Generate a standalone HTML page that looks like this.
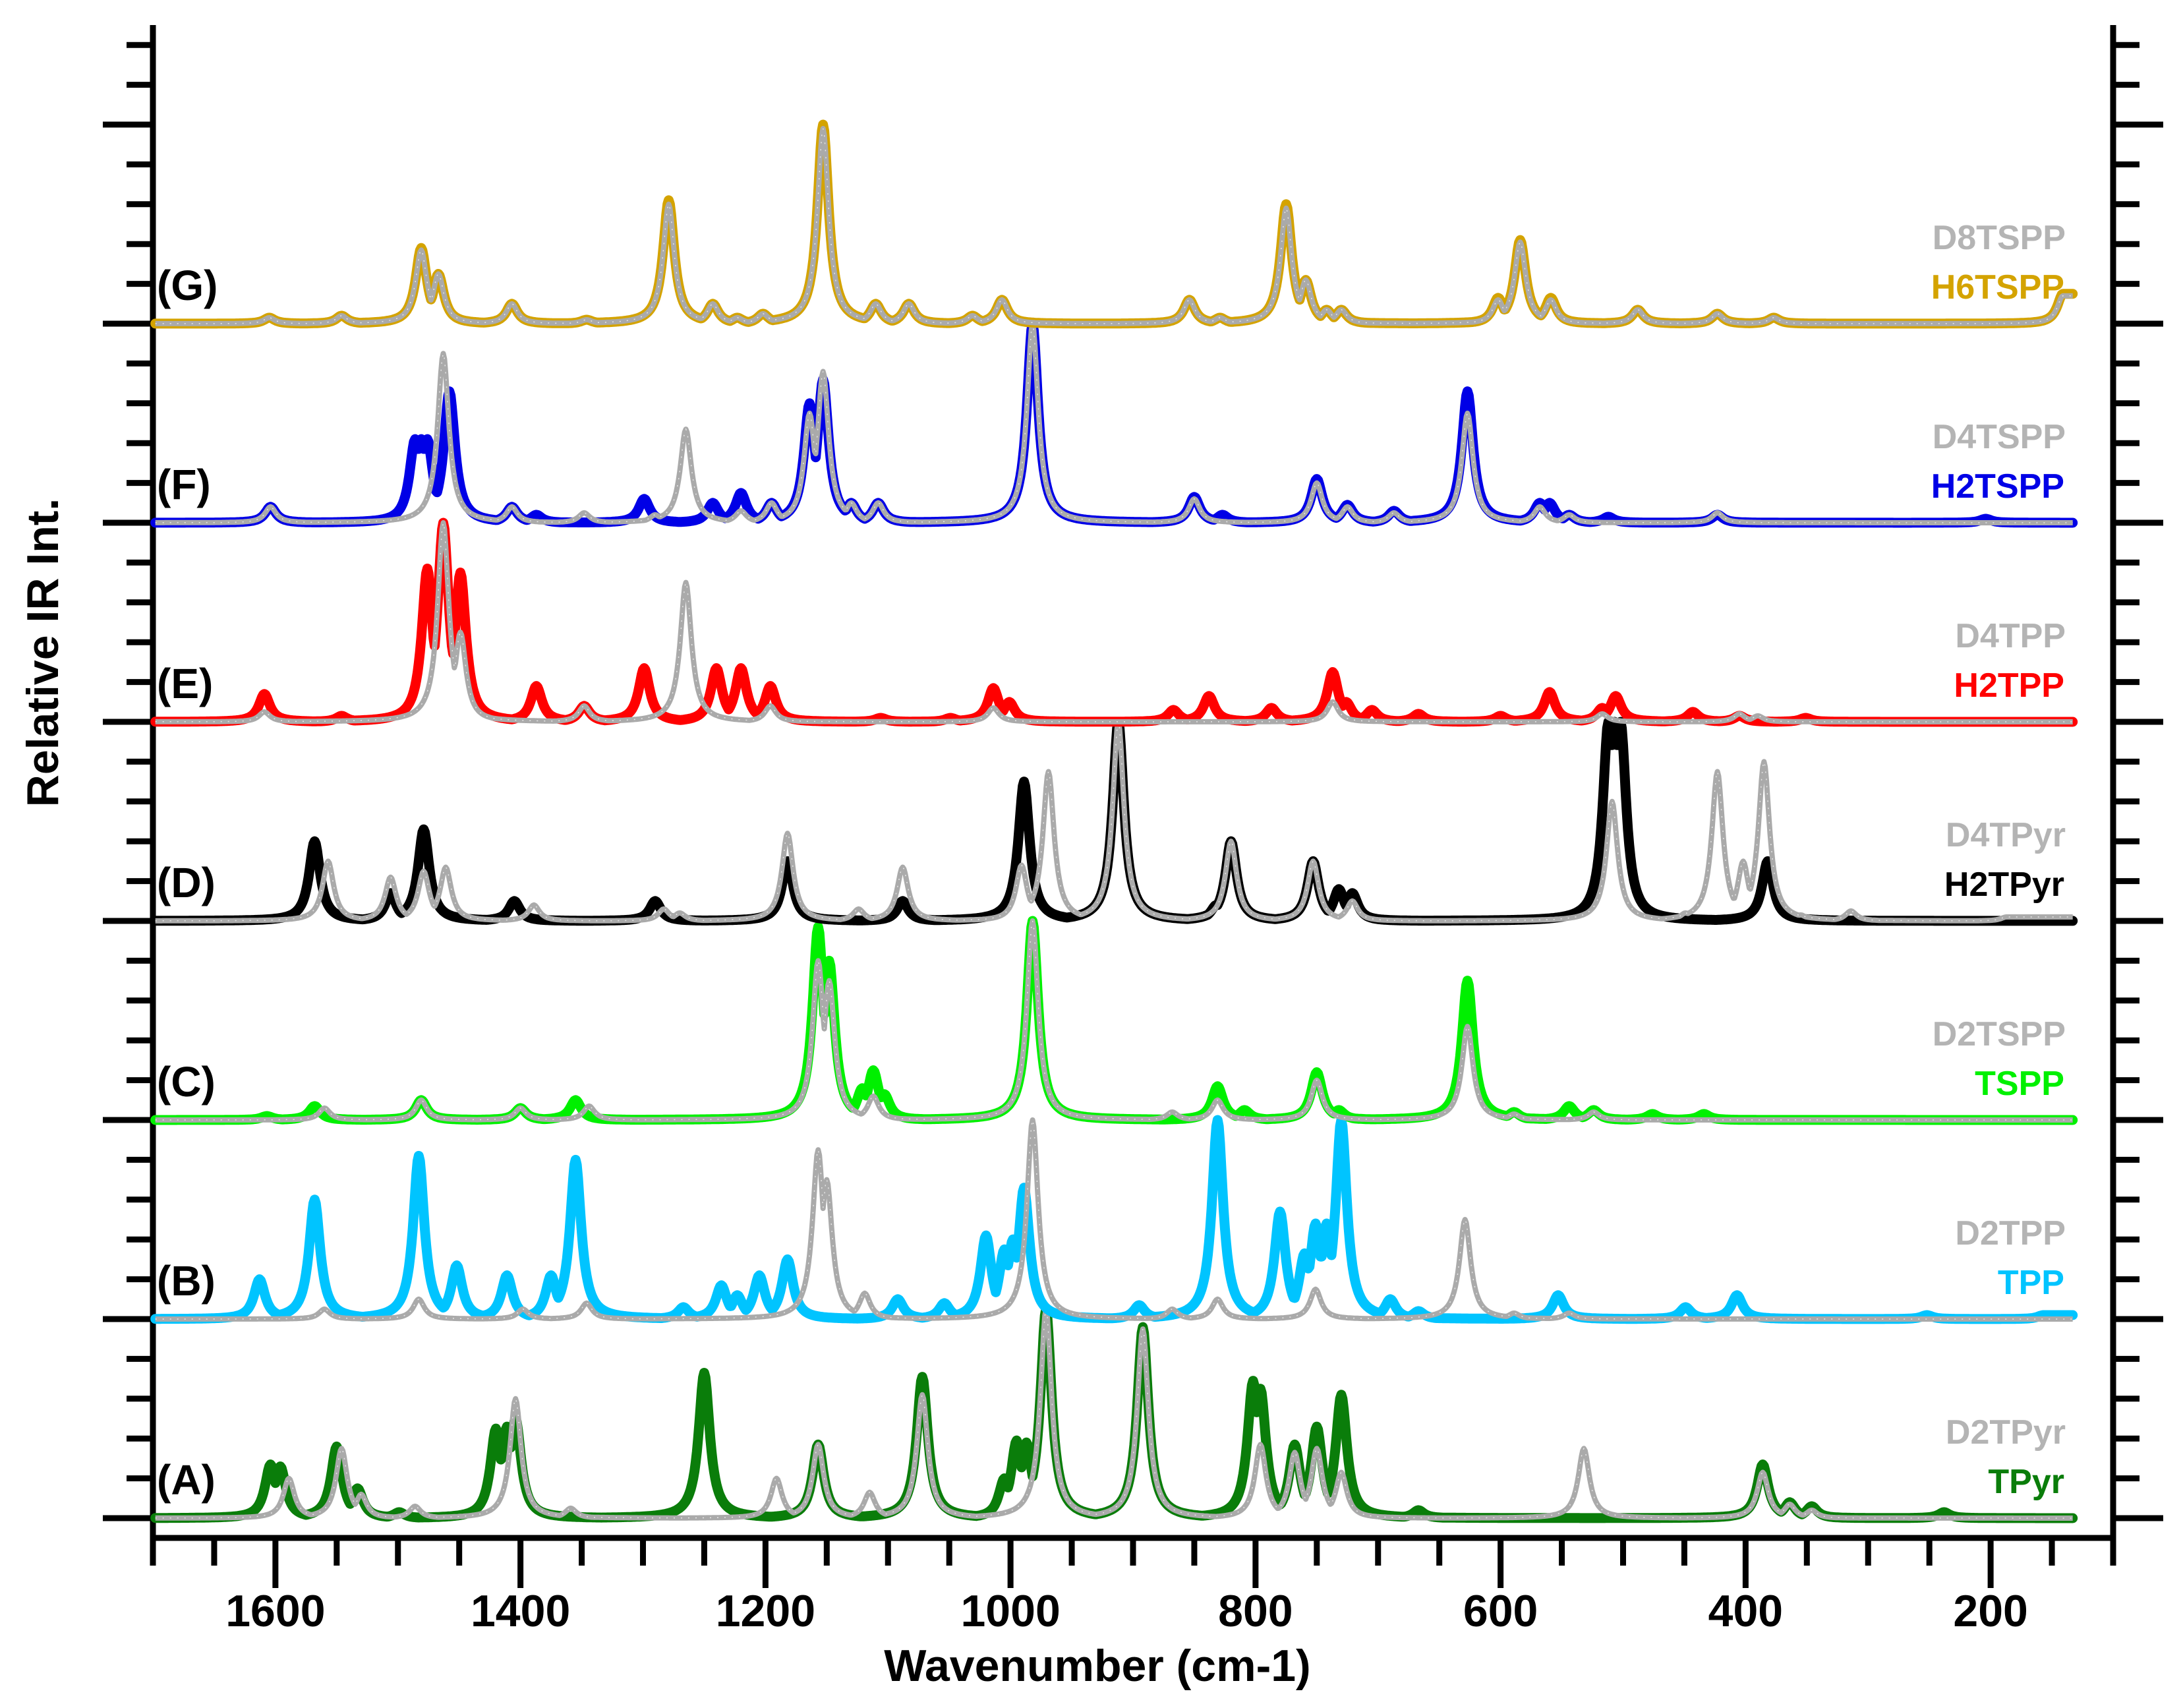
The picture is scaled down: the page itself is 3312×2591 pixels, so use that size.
<!DOCTYPE html>
<html><head><meta charset="utf-8"><style>
html,body{margin:0;padding:0;background:#fff;}
svg{display:block;font-family:"Liberation Sans",Arial,sans-serif;font-weight:bold;}
</style></head><body>
<svg id="chart" width="3312" height="2591" viewBox="0 0 3312 2591" xmlns="http://www.w3.org/2000/svg">
<g id="axes"></g>
<g id="series"></g>
<g id="labels"></g>
<text x="1665" y="2550" font-size="68" text-anchor="middle">Wavenumber (cm-1)</text>
<text transform="translate(88,990) rotate(-90)" font-size="68" text-anchor="middle">Relative IR Int.</text>
</svg>
<script>
const xTicks = [1600,1400,1200,1000,800,600,400,200];
const panelLetters = ["(A)","(B)","(C)","(D)","(E)","(F)","(G)"];
const colorNames = ["TPyr","TPP","TSPP","H2TPyr","H2TPP","H2TSPP","H6TSPP"];
const grayNames = ["D2TPyr","D2TPP","D2TSPP","D4TPyr","D4TPP","D4TSPP","D8TSPP"];
const colors = ["#0a7d0a","#00c4ff","#00f000","#000000","#ff0000","#0000e6","#d4a300"];

const tpyrPeaks = [[1604,0.27],[1596,0.26],[1550,0.36],[1533,0.15],[1499,0.03],[1420,0.45],[1411,0.46],[1404,0.5],[1250,0.73],[1157,0.37],[1072,0.71],[1005,0.2],[995,0.39],[987,0.38],[971,1.05],[892,0.96],[802,0.69],[796,0.65],[768,0.37],[750,0.46],[730,0.62],[667,0.04],[386,0.27],[364,0.08],[346,0.06],[238,0.03]];
const d2tpyrPeaks = [[1589,0.2],[1546,0.35],[1530,0.12],[1486,0.06],[1404,0.6],[1359,0.05],[1191,0.2],[1157,0.37],[1115,0.13],[1072,0.62],[971,1.05],[892,0.95],[796,0.37],[768,0.33],[750,0.35],[730,0.23],[532,0.35],[386,0.23],[364,0.07],[346,0.04]];
const tppPeaks = [[1613,0.2],[1568,0.6],[1483,0.82],[1452,0.27],[1411,0.22],[1375,0.22],[1355,0.8],[1267,0.06],[1236,0.17],[1223,0.12],[1205,0.22],[1182,0.3],[1092,0.1],[1054,0.08],[1020,0.42],[1005,0.35],[998,0.4],[989,0.66],[895,0.07],[831,1.0],[780,0.54],[760,0.33],[751,0.48],[742,0.48],[730,1.0],[690,0.1],[667,0.04],[553,0.12],[449,0.06],[407,0.12],[252,0.02],[157,0.02]];
const d2tppPeaks = [[1560,0.05],[1483,0.1],[1398,0.05],[1346,0.08],[1157,0.85],[1150,0.7],[1119,0.13],[982,1.0],[868,0.05],[831,0.1],[751,0.15],[629,0.5],[589,0.03],[544,0.03]];
const tsppPeaks = [[1607,0.02],[1568,0.07],[1481,0.1],[1400,0.06],[1355,0.1],[1157,0.97],[1148,0.8],[1121,0.16],[1112,0.25],[1103,0.13],[1002,0.05],[982,1.0],[831,0.17],[809,0.05],[750,0.24],[732,0.05],[627,0.7],[589,0.04],[544,0.07],[524,0.05],[476,0.03],[434,0.03]];
const d2tsppPeaks = [[1560,0.06],[1481,0.1],[1400,0.06],[1344,0.07],[1157,0.8],[1148,0.7],[1112,0.12],[982,1.0],[868,0.04],[831,0.1],[750,0.2],[627,0.47],[589,0.03],[524,0.04]];
const h2tpyrPeaks = [[1568,0.4],[1506,0.14],[1479,0.46],[1405,0.1],[1290,0.1],[1182,0.3],[1088,0.1],[989,0.7],[912,1.0],[832,0.08],[820,0.4],[753,0.3],[732,0.16],[721,0.14],[512,1.0],[507,1.0],[502,1.0],[382,0.3]];
const d4tpyrPeaks = [[1557,0.3],[1506,0.22],[1479,0.25],[1461,0.27],[1389,0.08],[1283,0.06],[1270,0.04],[1182,0.44],[1124,0.06],[1088,0.27],[991,0.28],[969,0.75],[912,1.0],[820,0.4],[753,0.3],[721,0.1],[509,0.6],[449,0.04],[423,0.75],[402,0.3],[385,0.8],[355,0.03],[314,0.05],[187,0.02]];
const h2tppPeaks = [[1609,0.14],[1546,0.03],[1476,0.77],[1463,1.0],[1449,0.75],[1387,0.18],[1348,0.08],[1299,0.27],[1240,0.27],[1220,0.27],[1196,0.18],[1106,0.02],[1049,0.02],[1014,0.17],[1001,0.1],[867,0.06],[838,0.13],[787,0.07],[737,0.25],[726,0.1],[705,0.06],[667,0.04],[600,0.03],[560,0.15],[517,0.07],[506,0.13],[443,0.05],[405,0.03],[351,0.02]];
const d4tppPeaks = [[1609,0.05],[1463,1.0],[1449,0.45],[1348,0.08],[1265,0.7],[1196,0.08],[1014,0.07],[737,0.1],[517,0.04],[405,0.04],[390,0.03]];
const h2tsppPeaks = [[1604,0.08],[1486,0.42],[1481,0.42],[1476,0.42],[1458,0.66],[1407,0.08],[1387,0.04],[1299,0.12],[1243,0.1],[1220,0.15],[1195,0.1],[1164,0.6],[1153,0.72],[1130,0.1],[1108,0.1],[982,1.0],[850,0.13],[827,0.04],[750,0.22],[725,0.09],[687,0.06],[627,0.66],[568,0.1],[560,0.1],[544,0.04],[512,0.03],[423,0.04],[204,0.02]];
const d4tsppPeaks = [[1604,0.08],[1463,0.85],[1407,0.08],[1348,0.05],[1290,0.04],[1265,0.47],[1220,0.06],[1195,0.1],[1164,0.55],[1153,0.76],[1130,0.1],[1108,0.1],[982,1.0],[850,0.12],[750,0.2],[725,0.08],[687,0.05],[627,0.55],[568,0.08],[544,0.04],[423,0.05]];
const h6tsppPeaks = [[1605,0.03],[1546,0.04],[1481,0.38],[1467,0.25],[1407,0.1],[1346,0.02],[1279,0.62],[1243,0.1],[1223,0.03],[1202,0.05],[1153,1.0],[1110,0.1],[1083,0.1],[1031,0.04],[1007,0.12],[854,0.12],[829,0.03],[775,0.6],[759,0.22],[742,0.07],[730,0.07],[602,0.13],[584,0.42],[559,0.13],[488,0.07],[423,0.05],[377,0.03],[141,0.15]];
const d8tsppPeaks = [[1605,0.03],[1546,0.04],[1481,0.37],[1467,0.25],[1407,0.1],[1346,0.02],[1279,0.6],[1243,0.1],[1223,0.03],[1202,0.05],[1153,0.98],[1110,0.1],[1083,0.1],[1031,0.04],[1007,0.12],[854,0.12],[829,0.03],[775,0.58],[759,0.22],[742,0.07],[730,0.07],[602,0.12],[584,0.41],[559,0.12],[488,0.07],[423,0.05],[377,0.03],[141,0.14]];

const colorSeries = [tpyrPeaks,tppPeaks,tsppPeaks,h2tpyrPeaks,h2tppPeaks,h2tsppPeaks,h6tsppPeaks];
const graySeries = [d2tpyrPeaks,d2tppPeaks,d2tsppPeaks,d4tpyrPeaks,d4tppPeaks,d4tsppPeaks,d8tsppPeaks];

const NS="http://www.w3.org/2000/svg";
const X0=232, X1=3206, W0=1700, W1=100;
const TOP=38, PANEL=302, BASE_A=2303, XAXIS=2333;
function xs(w){return X0+(W0-w)/(W0-W1)*(X1-X0);}
function base(i){return BASE_A-i*PANEL;}
function ys(i,h){return base(i)-h*PANEL;}
function mk(tag,attrs,parent){const e=document.createElementNS(NS,tag);for(const k in attrs)e.setAttribute(k,attrs[k]);parent.appendChild(e);return e;}

const axes=document.getElementById('axes');
const seriesG=document.getElementById('series');
const labelsG=document.getElementById('labels');

function curve(peaks){
  const pts=[];
  for(let w=1698;w>=133;w-=1){
    let v=0;
    for(const p of peaks){
      const hw=5.5;
      const d=(w-p[0])/hw;
      let l=p[1]/(1+d*d);
      if(p[0]<200 && w<p[0]) l=p[1];
      v=Math.max(v,l);
    }
    pts.push([w,v]);
  }
  return pts;
}
for(let i=0;i<7;i++){
  const g=mk('g',{},seriesG);
  
  
  const c=curve(colorSeries[i]).map(p=>xs(p[0]).toFixed(1)+','+ys(i,p[1]).toFixed(1)).join(' ');
  const g2=curve(graySeries[i]).map(p=>xs(p[0]).toFixed(1)+','+ys(i,p[1]).toFixed(1)).join(' ');
  const pl=mk('polyline',{points:c,fill:'none',stroke:colors[i],'stroke-width':15,'stroke-linejoin':'round','stroke-linecap':'round'},g);
  
  
  const pg=mk('polyline',{points:g2,fill:'none',stroke:'#aaaaaa','stroke-width':8,'stroke-linejoin':'round'},g);
  
  
  const pd=mk('polyline',{points:g2,fill:'none',stroke:'#ffffff','stroke-width':1.5,'stroke-dasharray':'2 9',opacity:0.7},g);
  
  
  const t1=mk('text',{x:238,y:base(i)-36,'font-size':64},labelsG);
  t1.textContent=panelLetters[i];
  
  
  const t2=mk('text',{x:3134,y:base(i)-113,'font-size':52,'text-anchor':'end',fill:'#b4b4b4'},labelsG);
  t2.textContent=grayNames[i];
  
  
  const t3=mk('text',{x:3132,y:base(i)-38,'font-size':52,'text-anchor':'end',fill:colors[i]},labelsG);
  t3.textContent=colorNames[i];
  
  
}
const al=mk('path',{d:`M${X0},${TOP} V${XAXIS} H${X1} V${TOP}`,fill:'none',stroke:'#000','stroke-width':9},axes);


for(let k=0;;k++){
  const y=BASE_A-k*PANEL/5;
  if(y<TOP-2)break;
  const major=(k%5===0);
  const L=major?76:40;
  const t=mk('path',{d:`M${X0-L},${y} H${X0} M${X1},${y} H${X1+L}`,stroke:'#000','stroke-width':9},axes);
  
  
}
for(let w=1700;w>=100;w-=50){
  const major=xTicks.indexOf(w)>=0;
  const x=xs(w);
  const t=mk('path',{d:`M${x},${XAXIS} V${XAXIS+(major?76:42)}`,stroke:'#000','stroke-width':9},axes);
  
  
}
xTicks.forEach(w=>{
  const t=mk('text',{x:xs(w),y:2467,'font-size':68,'text-anchor':'middle'},axes);
  t.textContent=w;
  
  
});
</script>
</body></html>
